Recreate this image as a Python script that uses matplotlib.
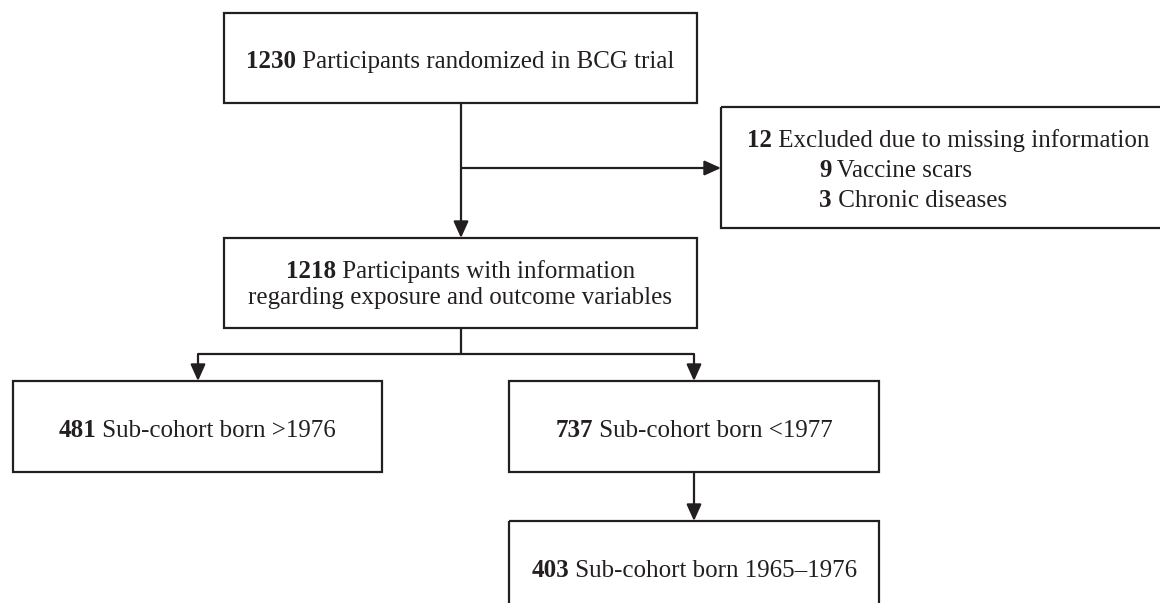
import matplotlib.pyplot as plt
from matplotlib.patches import Rectangle

# flowchart content
counts = ["1230", "12", "9", "3", "1218", "481", "737", "403"]
labels = ["Participants randomized in BCG trial",
          "Excluded due to missing information",
          "Vaccine scars",
          "Chronic diseases",
          "Participants with information",
          "Sub-cohort born >1976",
          "Sub-cohort born <1977",
          "Sub-cohort born 1965\u20131976"]
extra_line = "regarding exposure and outcome variables"

INK = "#231f20"
FS = 18
FONT = "Liberation Serif"

fig = plt.figure(figsize=(11.6, 6.03), dpi=100)
ax = fig.add_axes([0, 0, 1, 1])
ax.set_xlim(0, 1160)
ax.set_ylim(603, 0)
ax.axis("off")
renderer = fig.canvas.get_renderer()


def width_of(s, weight):
    t = ax.text(0, 0, s, fontsize=FS, family=FONT, fontweight=weight)
    w = t.get_window_extent(renderer).width
    t.remove()
    return w


def rich_line(x, y, bold, normal, align="center"):
    wb = width_of(bold, "bold")
    wn = width_of(" " + normal, "normal") if normal else 0
    x0 = x - (wb + wn) / 2 if align == "center" else x
    ax.text(x0, y, bold, fontsize=FS, family=FONT, fontweight="bold",
            color=INK, va="baseline", ha="left")
    if normal:
        ax.text(x0 + wb, y, " " + normal, fontsize=FS, family=FONT,
                color=INK, va="baseline", ha="left")


def box(x0, y0, x1, y1):
    ax.add_patch(Rectangle((x0, y0), x1 - x0, y1 - y0, fill=False,
                           edgecolor=INK, lw=1.6, clip_on=False))


def arrow(x0, y0, x1, y1):
    ax.annotate("", xy=(x1, y1), xytext=(x0, y0),
                arrowprops=dict(arrowstyle="-|>,head_length=1.0,head_width=0.45",
                                color=INK, lw=1.6, shrinkA=0, shrinkB=0))


def seg(xs, ys):
    ax.plot(xs, ys, color=INK, lw=1.6, solid_capstyle="butt")


# boxes
box(224, 13, 697, 103)
box(721, 107, 1170, 228)
box(224, 238, 697, 328)
box(13, 381, 382, 472)
box(509, 381, 879, 472)
box(509, 521, 879, 650)

# texts
rich_line(460.5, 68, counts[0], labels[0])
rich_line(747, 147, counts[1], labels[1], align="left")
rich_line(819, 177, counts[2], labels[2], align="left")
rich_line(819, 207, counts[3], labels[3], align="left")
rich_line(460.5, 278, counts[4], labels[4])
ax.text(460.5, 304, extra_line, fontsize=FS, family=FONT, color=INK,
        ha="center", va="baseline")
rich_line(197.5, 437, counts[5], labels[5])
rich_line(694, 437, counts[6], labels[6])
rich_line(694, 577, counts[7], labels[7])

# connectors
arrow(461, 103, 461, 238)
arrow(461, 168, 721, 168)
seg([461, 461], [328, 354])
seg([198, 694], [354, 354])
arrow(198, 354, 198, 381)
arrow(694, 354, 694, 381)
arrow(694, 472, 694, 521)

fig.savefig("out.png", dpi=100, facecolor="white")
